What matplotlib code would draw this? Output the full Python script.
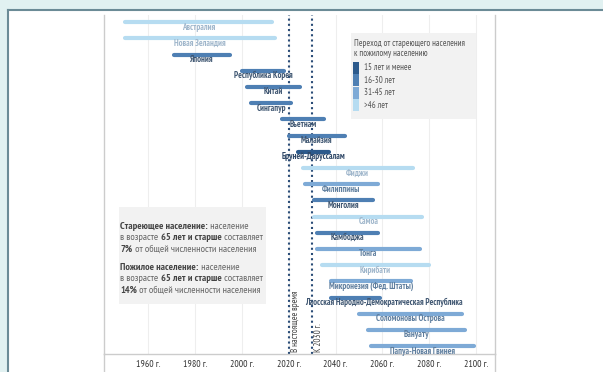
import matplotlib
matplotlib.use('Agg')
import matplotlib.pyplot as plt
from matplotlib.patches import Rectangle
from matplotlib.lines import Line2D

plt.rcParams['font.family'] = ['PT Sans Narrow', 'Roboto Condensed', 'DejaVu Sans']

countries = ['Австралия', 'Новая Зеландия', 'Япония', 'Республика Корея', 'Китай',
             'Сингапур', 'Вьетнам', 'Малайзия', 'Бруней-Даруссалам', 'Фиджи',
             'Филиппины', 'Монголия', 'Самоа', 'Камбоджа', 'Тонга', 'Кирибати',
             'Микронезия (Фед. Штаты)', 'Лаосская Народно-Демократическая Республика',
             'Соломоновы Острова', 'Вануату', 'Папуа-Новая Гвинея']
# год, когда население становится стареющим (7%) и пожилым (14%)
start_year = [1950, 1950, 1971, 2000, 2002, 2004, 2017, 2020, 2024, 2026, 2027,
              2031, 2031, 2032, 2032, 2034, 2038, 2038, 2050, 2054, 2055]
end_year = [2013, 2014, 1995, 2018, 2025, 2021, 2035, 2044, 2037, 2073, 2058,
            2056, 2077, 2058, 2076, 2080, 2072, 2059, 2094, 2095, 2099]
# 0: 15 лет и менее, 1: 16-30, 2: 31-45, 3: >46
group = [3, 3, 1, 1, 1, 1, 1, 1, 0, 3, 2, 1, 3, 1, 2, 3, 2, 1, 2, 2, 2]
group_names = ['15 лет и менее', '16-30 лет', '31-45 лет', '>46 лет']
years = [1960, 1980, 2000, 2020, 2040, 2060, 2080, 2100]
now_year = 2020
target_year = 2030

bar_colors = ['#2c5a8c', '#4e7fb3', '#7eaad6', '#b6dcf1']
label_colors = ['#2e4766', '#3f5671', '#5f7e9e', '#9fb6cb']
label_shift = {'Лаосская Народно-Демократическая Республика': 12}

W, H = 603, 372
fig = plt.figure(figsize=(W / 100, H / 100), dpi=100)
fig.patch.set_facecolor('white')


def fx(px):
    return px / W


def fy(py):
    return 1 - py / H


# рамка страницы
fig.patches.append(Rectangle((0, 0), fx(7.5), 1, transform=fig.transFigure,
                             facecolor='#e1f1f1', edgecolor='none'))
fig.patches.append(Rectangle((0, fy(10)), 1, 10 / H, transform=fig.transFigure,
                             facecolor='#e1f1f1', edgecolor='none'))
fig.lines.append(Line2D([fx(7.5), 1], [fy(10), fy(10)], transform=fig.transFigure,
                        color='#6b8b96', lw=1.5))
fig.lines.append(Line2D([fx(7.5), fx(7.5)], [fy(10), 0], transform=fig.transFigure,
                        color='#6b8b96', lw=1.5))

ax = fig.add_axes([fx(103.5), fy(354), fx(495) - fx(103.5), (354 - 15) / H])
ax.set_xlim(1941, 2108)
ax.set_ylim(20.48, -0.45)
ax.set_facecolor('none')

ax.spines['top'].set_visible(False)
for s in ['left', 'right', 'bottom']:
    ax.spines[s].set_color('#cccccc')
    ax.spines[s].set_linewidth(1)
for xp in [103.5, 495]:
    fig.lines.append(Line2D([fx(xp), fx(xp)], [fy(354), 0], transform=fig.transFigure,
                            color='#cccccc', lw=1))

ax.set_xticks(years)
ax.set_xticklabels(['{} г.'.format(y) for y in years], fontsize=7, color='#333333')
ax.tick_params(axis='x', length=0, pad=4)
ax.set_yticks([])
for y in years:
    ax.axvline(y, color='#eeeeee', lw=0.8, zorder=0)

for xv in [now_year, target_year]:
    ax.axvline(xv, color='#2a4c77', lw=1.5, linestyle=(0, (1, 1.5)), zorder=1)

for i, name in enumerate(countries):
    g = group[i]
    ax.plot([start_year[i], end_year[i]], [i, i], color=bar_colors[g], lw=3,
            solid_capstyle='round', zorder=3)
    cx = (start_year[i] + end_year[i]) / 2 + label_shift.get(name, 0)
    ax.text(cx, i + 0.3, name, ha='center', va='center', fontsize=6.3,
            fontweight='bold', color=label_colors[g], zorder=4)

ax.text(now_year + 1.0, 20.35, 'В настоящее время', rotation=90, ha='left',
        va='bottom', fontsize=6.5, color='#444444')
ax.text(target_year + 1.0, 20.35, 'К 2030 г.', rotation=90, ha='left',
        va='bottom', fontsize=6.5, color='#444444')

# поясняющий блок
fig.patches.append(Rectangle((fx(119), fy(304)), fx(266) - fx(119), (304 - 207) / H,
                             transform=fig.transFigure, facecolor='#f2f2f2',
                             edgecolor='none', zorder=0))

fig.canvas.draw()
renderer = fig.canvas.get_renderer()


def piece_width(txt, weight, size):
    t = fig.text(0, 0, txt + 'x', fontsize=size, fontweight=weight)
    t2 = fig.text(0, 0, 'x', fontsize=size, fontweight=weight)
    w = t.get_window_extent(renderer).width - t2.get_window_extent(renderer).width
    t.remove()
    t2.remove()
    return w


def rich_line(xp, yp, parts, size=7.4):
    for txt, weight in parts:
        col = '#444444' if weight == 'bold' else '#666666'
        fig.text(fx(xp), fy(yp), txt, fontsize=size, fontweight=weight,
                 color=col, ha='left', va='baseline')
        xp += piece_width(txt, weight, size)


info = [
    [('Стареющее население:', 'bold'), (' население', 'normal')],
    [('в возрасте ', 'normal'), ('65 лет и старше', 'bold'), (' составляет', 'normal')],
    [('7%', 'bold'), (' от общей численности населения', 'normal')],
    None,
    [('Пожилое население:', 'bold'), (' население', 'normal')],
    [('в возрасте ', 'normal'), ('65 лет и старше', 'bold'), (' составляет', 'normal')],
    [('14%', 'bold'), (' от общей численности населения', 'normal')],
]
yp = 229
for line in info:
    if line is None:
        yp += 7
        continue
    rich_line(120.5, yp, line)
    yp += 11.3

# легенда
fig.patches.append(Rectangle((fx(351), fy(119)), fx(476) - fx(351), (119 - 33) / H,
                             transform=fig.transFigure, facecolor='#f2f2f2',
                             edgecolor='none', zorder=0))
fig.text(fx(353.5), fy(46), 'Переход от стареющего населения', fontsize=6.4,
         color='#555555', va='baseline')
fig.text(fx(353.5), fy(56), 'к пожилому населению', fontsize=6.4,
         color='#555555', va='baseline')
for k, gname in enumerate(group_names):
    top = 61.7 + k * 12.5
    fig.patches.append(Rectangle((fx(353), fy(top + 11.8)), fx(6.3), 11.8 / H,
                                 transform=fig.transFigure, facecolor=bar_colors[k],
                                 edgecolor='none'))
    fig.text(fx(364), fy(top + 6), gname, fontsize=6.4, color='#555555', va='center')

fig.savefig('out.png', dpi=100)
